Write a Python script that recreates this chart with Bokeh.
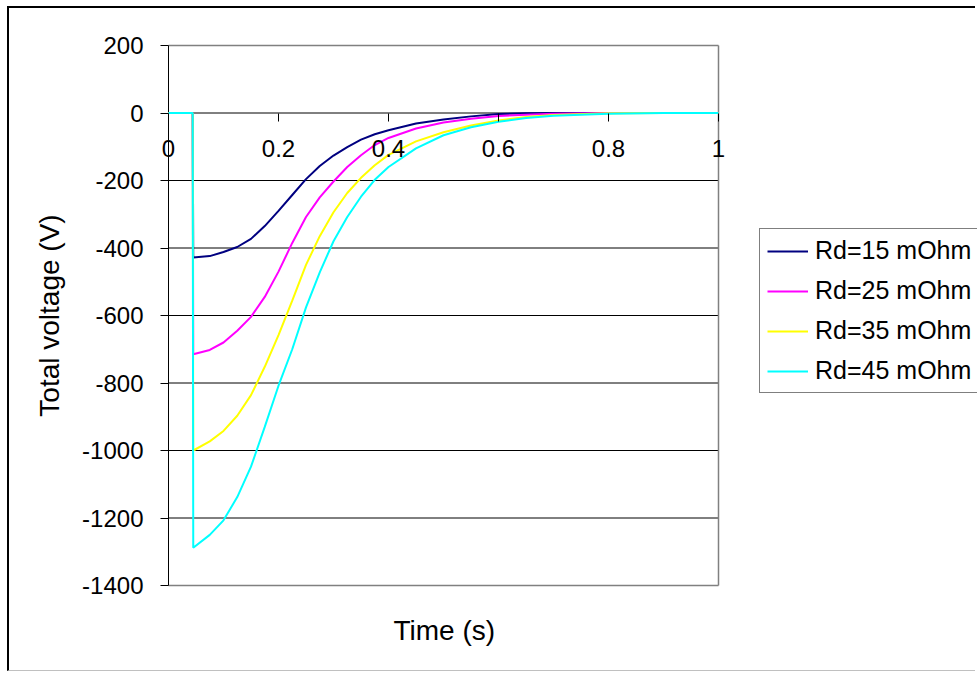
from bokeh.plotting import figure
from bokeh.models import Range1d, FixedTicker, Legend, LegendItem, Title
from bokeh.embed import file_html
from bokeh.resources import INLINE

# Time axis (s)
t = [0.0, 0.044, 0.045, 0.075, 0.1, 0.125, 0.15, 0.175, 0.2, 0.225, 0.25,
     0.275, 0.3, 0.325, 0.35, 0.375, 0.4, 0.45, 0.5, 0.55, 0.6, 0.65, 0.7,
     0.8, 0.9, 1.0]

# Total voltage (V) for each damping resistance
v_rd15 = [0, 0, -428, -424, -412, -397, -373, -335, -290, -243, -196,
          -157, -126, -101, -79, -63, -51, -31, -19, -10, -3, -1, 0,
          0, 0, 0]
v_rd25 = [0, 0, -715, -702, -680, -645, -604, -545, -470, -385, -308,
          -250, -203, -160, -125, -95, -74, -46, -28, -17, -9, -5, -2,
          0, 0, 0]
v_rd35 = [0, 0, -1000, -973, -942, -897, -836, -752, -658, -556, -450,
          -365, -294, -237, -192, -155, -124, -84, -57, -37, -22, -12, -6,
          -1, 0, 0]
v_rd45 = [0, 0, -1288, -1250, -1207, -1138, -1048, -930, -808, -700, -576,
          -472, -380, -308, -248, -198, -160, -105, -66, -42, -26, -15, -8,
          -2, 0, 0]

series_labels = ["Rd=15 mOhm", "Rd=25 mOhm", "Rd=35 mOhm", "Rd=45 mOhm"]
series_colors = ["#000080", "#FF00FF", "#FFFF00", "#00FFFF"]

x_ticks = [0, 0.2, 0.4, 0.6, 0.8, 1]
x_tick_labels = ["0", "0.2", "0.4", "0.6", "0.8", "1"]
y_ticks = [-1400, -1200, -1000, -800, -600, -400, -200, 0, 200]
y_tick_labels = ["-1400", "-1200", "-1000", "-800", "-600", "-400", "-200", "0", "200"]

X_MIN, X_MAX = 0, 1
Y_MIN, Y_MAX = -1400, 200

FONT = "Liberation Sans"

# layout (pixels): the frame is larger than the plot area so that tick
# labels and the legend, which sit outside the plot area, are not clipped.
CANVAS_W, CANVAS_H = 968, 665
BORDER_L, BORDER_T, BORDER_B = 55, 17, 68
PX_PER_X = 550.0              # x = 0 -> 1 spans 550 px
PLOT_H = 540.0                # y = -1400 -> 200 spans 540 px
AXIS_OFFSET = 104             # px between frame left and x = 0
PAD_Y = 20                    # px of frame above / below the plot area
frame_w = CANVAS_W - BORDER_L
x_start = -AXIS_OFFSET / PX_PER_X
x_end = x_start + frame_w / PX_PER_X
px_per_y = PLOT_H / (Y_MAX - Y_MIN)
y_start = Y_MIN - PAD_Y / px_per_y
y_end = Y_MAX + PAD_Y / px_per_y

p = figure(width=CANVAS_W, height=CANVAS_H, output_backend="svg",
           toolbar_location=None,
           x_range=Range1d(x_start, x_end), y_range=Range1d(y_start, y_end),
           min_border_left=BORDER_L, min_border_right=0,
           min_border_top=BORDER_T, min_border_bottom=BORDER_B,
           background_fill_color="white", border_fill_color="white",
           styles={"margin-left": "7px", "margin-top": "6px",
                   "border-left": "2px solid black",
                   "border-top": "2px solid black",
                   "border-bottom": "1px solid #c0c0c0"})

p.outline_line_color = None
p.xgrid.visible = False
p.ygrid.visible = False

# horizontal gridlines inside the plot area
inner = y_ticks[1:-1]
p.segment(x0=[X_MIN] * len(inner), x1=[X_MAX] * len(inner), y0=inner, y1=inner,
          line_color="black", line_width=1)
# plot-area border (top, bottom, right)
p.segment(x0=[X_MIN, X_MIN, X_MAX], x1=[X_MAX, X_MAX, X_MAX],
          y0=[Y_MAX, Y_MIN, Y_MIN], y1=[Y_MAX, Y_MIN, Y_MAX],
          line_color="#808080", line_width=1.5)
# y axis line at x = 0
p.segment(x0=[X_MIN], x1=[X_MIN], y0=[Y_MIN], y1=[Y_MAX],
          line_color="black", line_width=1)

# x axis crossing at y = 0
xa = p.xaxis[0]
xa.fixed_location = 0
xa.ticker = FixedTicker(ticks=x_ticks)
xa.major_label_overrides = {k: s for k, s in zip(x_ticks, x_tick_labels)}
xa.axis_line_color = None
xa.major_tick_line_color = "black"
xa.major_tick_out = 8
xa.major_tick_in = 0
xa.minor_tick_line_color = None
xa.major_label_standoff = 19
xa.major_label_text_font = FONT
xa.major_label_text_font_size = "24px"
xa.major_label_text_color = "black"

# y axis at x = 0
ya = p.yaxis[0]
ya.fixed_location = 0
ya.ticker = FixedTicker(ticks=y_ticks)
ya.major_label_overrides = {k: s for k, s in zip(y_ticks, y_tick_labels)}
ya.axis_line_color = None
ya.major_tick_line_color = "black"
ya.major_tick_out = 8
ya.major_tick_in = 0
ya.minor_tick_line_color = None
ya.major_label_standoff = 17
ya.major_label_text_font = FONT
ya.major_label_text_font_size = "24px"
ya.major_label_text_color = "black"

p.add_layout(Title(text="Total voltage (V)", align="center", text_font=FONT,
                   text_font_size="28px", text_font_style="normal",
                   text_color="black", standoff=0, offset=0), "left")
# "Time (s)" starts so that it is centred under x = 0.5
time_offset = AXIS_OFFSET + 0.5 * PX_PER_X - 50
p.add_layout(Title(text="Time (s)", align="left", text_font=FONT,
                   text_font_size="28px", text_font_style="normal",
                   text_color="black", standoff=14, offset=time_offset), "below")

renderers = []
for vals, col in zip([v_rd15, v_rd25, v_rd35, v_rd45], series_colors):
    r = p.line(t, vals, line_color=col, line_width=2)
    renderers.append(r)

legend = Legend(items=[LegendItem(label=lab, renderers=[r])
                       for lab, r in zip(series_labels, renderers)],
                location=(AXIS_OFFSET + 591, PAD_Y + 192),
                border_line_color="black", border_line_width=1,
                background_fill_color="white", background_fill_alpha=1,
                padding=7, spacing=11, label_height=28, glyph_height=28,
                glyph_width=41, label_standoff=7, margin=0,
                label_text_font=FONT, label_text_font_size="25px",
                label_text_color="black")
p.add_layout(legend)

open("out.html", "w").write(file_html(p, INLINE))
